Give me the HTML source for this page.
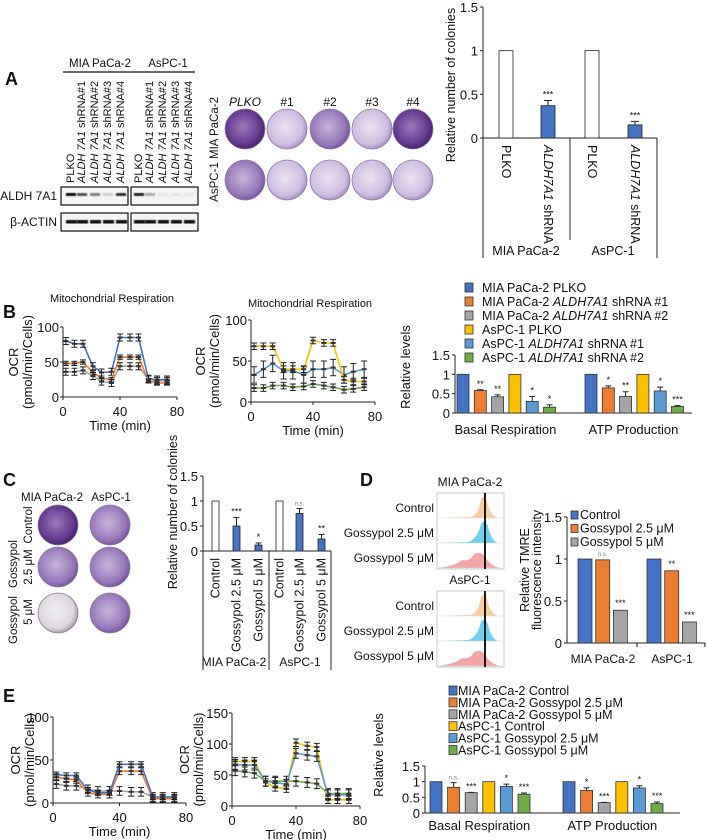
<!DOCTYPE html>
<html><head><meta charset="utf-8">
<style>
html,body{margin:0;padding:0;background:#fff;}
svg{display:block;font-family:"Liberation Sans",sans-serif;}
</style></head>
<body>
<svg id="fig" width="707" height="840" viewBox="0 0 707 840" xmlns="http://www.w3.org/2000/svg">
<defs>
<radialGradient id="pDark" cx="45%" cy="45%" r="55%"><stop offset="0" stop-color="#9a7ab8"/><stop offset="0.7" stop-color="#6b3f94"/><stop offset="1" stop-color="#4a2370"/></radialGradient>
<radialGradient id="pMid" cx="45%" cy="45%" r="55%"><stop offset="0" stop-color="#c7b5db"/><stop offset="0.8" stop-color="#9676ba"/><stop offset="1" stop-color="#7a57a2"/></radialGradient>
<radialGradient id="pLight" cx="45%" cy="45%" r="55%"><stop offset="0" stop-color="#ebe3f3"/><stop offset="0.8" stop-color="#cdbde0"/><stop offset="1" stop-color="#a893c6"/></radialGradient>
<radialGradient id="pWhite" cx="45%" cy="45%" r="55%"><stop offset="0" stop-color="#f2f0f2"/><stop offset="0.8" stop-color="#ddd6dd"/><stop offset="1" stop-color="#a9a0aa"/></radialGradient>
<filter id="blur1"><feGaussianBlur stdDeviation="0.6"/></filter>
</defs>
<g id="root"></g>
</svg>
<script>
// ---------- DATA ----------
const times=[2,8,14,21,27,34,40,47,53,60,66,73];
const aCats=["PLKO","ALDH7A1 shRNA","PLKO","ALDH7A1 shRNA"];
const aVals=[1,0.37,1,0.15];
const aErrs=[0,0.06,0,0.04];
const aStars=["","***","","***"];
const bMiaPlko=[80,76,76,44,35,36,85,85,85,26,25,25];
const bMiaSh1=[48,48,50,35,27,25,57,57,57,23,20,20];
const bMiaSh2=[36,36,38,30,22,20,44,44,44,25,23,23];
const bAsPlko=[68,68,68,40,40,40,75,72,72,27,25,25];
const bAsSh1=[33,40,47,38,38,33,40,40,42,33,37,40];
const bAsSh2=[17,17,20,20,18,19,22,20,18,15,16,18];
const bBasal=[1,0.58,0.42,1,0.3,0.15];
const bBasalErr=[0,0.02,0.05,0,0.13,0.06];
const bBasalStars=["","**","**","","*","*"];
const bATP=[1,0.65,0.43,1,0.57,0.17];
const bATPErr=[0,0.05,0.12,0,0.1,0.02];
const bATPStars=["","*","**","","*","***"];
const bLegend=["MIA PaCa-2 PLKO","MIA PaCa-2 |ALDH7A1| shRNA #1","MIA PaCa-2 |ALDH7A1| shRNA #2","AsPC-1 PLKO","AsPC-1 |ALDH7A1| shRNA #1","AsPC-1 |ALDH7A1| shRNA #2"];
const cVals=[1,0.5,0.12,1,0.75,0.24];
const cErrs=[0,0.17,0.04,0,0.1,0.09];
const cStars=["","***","*","","n.s.","**"];
const cCats=["Control","Gossypol 2.5 μM","Gossypol 5 μM","Control","Gossypol 2.5 μM","Gossypol 5 μM"];
const dMia=[1,0.99,0.39];
const dAs=[1,0.86,0.25];
const dStarsMia=["","n.s.","***"];
const dStarsAs=["","**","***"];
const dLegend=["Control","Gossypol 2.5 μM","Gossypol 5 μM"];
const eMiaCtrl=[33,32,32,15,12,12,45,45,45,7,7,7];
const eMia25=[30,28,27,12,10,10,37,37,37,5,5,5];
const eMia5=[22,20,20,16,14,14,14,13,13,7,7,7];
const eAsCtrl=[72,72,72,38,30,28,102,97,95,10,10,10];
const eAs25=[67,66,66,40,38,35,85,82,80,18,18,18];
const eAs5=[57,55,53,40,40,40,40,38,36,20,20,20];
const eBasal=[1,0.82,0.65,1,0.85,0.6];
const eBasalErr=[0,0.15,0.01,0,0.07,0.04];
const eBasalStars=["","n.s.","***","","*","***"];
const eATP=[1,0.72,0.33,1,0.8,0.3];
const eATPErr=[0,0.08,0.01,0,0.07,0.05];
const eATPStars=["","*","***","","*","***"];
const eLegend=["MIA PaCa-2 Control","MIA PaCa-2 Gossypol 2.5 μM","MIA PaCa-2 Gossypol 5 μM","AsPC-1 Control","AsPC-1 Gossypol 2.5 μM","AsPC-1 Gossypol 5 μM"];
const yTicks15=["0","0.5","1","1.5"];

const COL=["#4472C4","#ED7D31","#A5A5A5","#FFC000","#5B9BD5","#70AD47"];
const NS="http://www.w3.org/2000/svg";
const root=document.getElementById("root");

function mk(tag,attrs,parent){const e=document.createElementNS(NS,tag);for(const k in attrs)e.setAttribute(k,attrs[k]);(parent||root).appendChild(e);return e;}
function txt(x,y,s,size,anchor,extra){const e=mk("text",Object.assign({x:x,y:y,"font-size":size||11,"text-anchor":anchor||"start",fill:"#111"},extra||{}));
  const parts=s.split("|");parts.forEach((p,i)=>{if(!p)return;const t=document.createElementNS(NS,"tspan");t.textContent=p;if(i%2===1)t.setAttribute("font-style","italic");e.appendChild(t);});return e;}
function rtxt(x,y,s,size,anchor){return txt(x,y,s,size,anchor,{transform:"rotate(-90 "+x+" "+y+")"});}
function ln(x1,y1,x2,y2,w,c){return mk("line",{x1:x1,y1:y1,x2:x2,y2:y2,stroke:c||"#111","stroke-width":w||1});}

function lineChart(cfg){
  const sx=v=>cfg.ax+(cfg.ax1-cfg.ax)*v/80;
  const sy=v=>cfg.y0+(cfg.yTop-cfg.y0)*v/cfg.ymax;
  let e=ln(cfg.ax,cfg.yTop,cfg.ax,cfg.y0,1,"#222");
  
  
  e=ln(cfg.ax,cfg.y0,cfg.ax1,cfg.y0,1,"#222");
  
  
  cfg.yticks.forEach(v=>{
    ln(cfg.ax-3,sy(v),cfg.ax,sy(v),1,"#222");
    e=txt(cfg.ax-4,sy(v)+5,String(v),13,"end");
    
    
  });
  [0,40,80].forEach(v=>{
    ln(sx(v),cfg.y0,sx(v),cfg.y0+3,1,"#222");
    e=txt(sx(v),cfg.y0+19,String(v),13,"middle");
    
    
  });
  e=txt((cfg.ax+cfg.ax1)/2,cfg.y0+33,"Time (min)",13,"middle");
  
  
  const cy=(cfg.y0+cfg.yTop)/2;
  e=rtxt(cfg.lx,cy,"OCR",13,"middle");
  
  
  e=rtxt(cfg.lx+14,cy,"(pmol/min/Cells)",13,"middle");
  
  
  if(cfg.title){e=txt(cfg.titleX,cfg.titleY,cfg.title,11,"middle");
    
    }
  cfg.series.forEach((s,si)=>{
    const pts=s.vals.map((v,i)=>sx(times[i]).toFixed(1)+","+sy(v).toFixed(1)).join(" ");
    const p=mk("polyline",{points:pts,fill:"none",stroke:s.color,"stroke-width":1.6});
    
    
    s.vals.forEach((v,i)=>{
      const x=sx(times[i]),er=s.err;
      const g=mk("path",{d:`M${x},${sy(v+er)}V${sy(v-er)}M${x-3},${sy(v+er)}h6M${x-3},${sy(v-er)}h6`,stroke:"#222","stroke-width":1,fill:"none"});
      
      
      const m=mk("rect",{x:x-2.5,y:sy(v)-1,width:5,height:2,fill:"#333"});
      
      
    });
  });
}

function groupedBars(cfg){
  const sy=v=>cfg.y0+(cfg.yTop-cfg.y0)*v/1.5;
  let e=ln(cfg.ax,cfg.yTop,cfg.ax,cfg.y0,1,"#222");
  
  
  e=ln(cfg.ax,cfg.y0,cfg.ax1,cfg.y0,1,"#222");
  
  
  yTicks15.forEach((t,i)=>{
    const v=i*0.5;
    ln(cfg.ax-3,sy(v),cfg.ax,sy(v),1,"#222");
    e=txt(cfg.ax-5,sy(v)+5,t,13,"end");
    
    
  });
  e=rtxt(cfg.lx,cfg.ly,"Relative levels",13,"middle");
  
  
  cfg.groups.forEach((g,gi)=>{
    g.vals.forEach((v,i)=>{
      const x=g.start+i*cfg.pitch;
      const r=mk("rect",{x:x,y:sy(v),width:cfg.bw,height:sy(0)-sy(v),fill:COL[i],stroke:"#333","stroke-width":0.8});
      
      
      const er=g.errs[i];
      if(er>0){const p=mk("path",{d:`M${x+cfg.bw/2},${sy(v)}V${sy(v+er)}M${x+cfg.bw/2-3},${sy(v+er)}h6`,stroke:"#222","stroke-width":1});
        
        }
      if(g.stars[i]){const s=txt(x+cfg.bw/2,sy(v+er)-3,g.stars[i],g.stars[i]==="n.s."?6:9,"middle",{fill:g.stars[i]==="n.s."?"#777":"#111"});
        
        }
    });
    e=txt(g.start+cfg.pitch*2.8,cfg.labelY,g.label,13,"middle");
    
    
  });
  cfg.legend.forEach((s,i)=>{
    const y=cfg.legY+i*cfg.legPitch;
    const r=mk("rect",{x:cfg.legX,y:y-9,width:8,height:9,fill:COL[i],stroke:"#333","stroke-width":0.8});
    
    
    const t=txt(cfg.legX+cfg.legTx,y,s,cfg.legSize||12.5);
    
    
  });
}

function simpleBars(cfg){
  const sy=v=>cfg.y0+(cfg.yTop-cfg.y0)*v/1.5;
  let e=ln(cfg.ax,cfg.yTop,cfg.ax,cfg.yBot,1,"#222");
  
  
  e=ln(cfg.ax,cfg.y0,cfg.ax1,cfg.y0,1,"#222");
  
  
  yTicks15.forEach((t,i)=>{const v=i*0.5;ln(cfg.ax-3,sy(v),cfg.ax,sy(v),1,"#222");
    e=txt(cfg.ax-5,sy(v)+5,t,13,"end");
    
    });
  cfg.vals.forEach((v,i)=>{
    const x=cfg.xs[i];
    const r=mk("rect",{x:x,y:sy(v),width:cfg.bw,height:sy(0)-sy(v),fill:cfg.fills[i],stroke:"#222","stroke-width":0.8});
    
    
    const er=cfg.errs[i];
    if(er>0){const p=mk("path",{d:`M${x+cfg.bw/2},${sy(v)}V${sy(v+er)}M${x+cfg.bw/2-3},${sy(v+er)}h6`,stroke:"#222","stroke-width":1});
      
      }
    if(cfg.stars[i]){const s=txt(x+cfg.bw/2,sy(v+er)-3,cfg.stars[i],cfg.stars[i]==="n.s."?6:9,"middle",{fill:cfg.stars[i]==="n.s."?"#777":"#111"});
      
      }
    const c=rtxt(x+cfg.bw/2+4,cfg.y0+7,cfg.cats[i],12.5,"end");
    
    
  });
}

// ---------- PANEL A ----------
let e=txt(5,85,"A",18,"start",{"font-weight":"bold"});


e=txt(100,67,"MIA PaCa-2",11.5,"middle");


e=txt(168,67,"AsPC-1",11.5,"middle");


ln(63,72,195,72,1.2);
const laneX=[70,81,94,107,120,138,149,162,175,188];
const laneLbl=["PLKO","|ALDH 7A1| shRNA#1","|ALDH 7A1| shRNA#2","|ALDH 7A1| shRNA#3","|ALDH 7A1| shRNA#4"];
laneX.forEach((x,i)=>{
  e=rtxt(x+4,183,laneLbl[i%5],11,"start");
  
  
});
[[61,187,67,18],[131,187,67,18],[61,213,67,18],[131,213,67,18]].forEach((b,i)=>{
  e=mk("rect",{x:b[0],y:b[1],width:b[2],height:b[3],fill:"#f4f4f4",stroke:"#111","stroke-width":1.2});
  
  
});
const aldhBand=[1,0.7,0.5,0.15,0.85,0.9,0.3,0.05,0.05,0.05];
laneX.forEach((x,i)=>{
  e=mk("rect",{x:x-4,y:193,width:10,height:3,fill:"#111",opacity:aldhBand[i],filter:"url(#blur1)"});
  
  
  e=mk("rect",{x:x-4,y:220,width:11,height:3.5,fill:"#111",filter:"url(#blur1)"});
  
  
});
e=txt(57,200,"ALDH 7A1",12,"end");


e=txt(57,226,"β-ACTIN",12,"end");


const plateX=[245,287,330,372,413];
const plateLbl=["PLKO","#1","#2","#3","#4"];
const row1=["pDark","pLight","pMid","pLight","pDark"];
const row2=["pMid","pLight","pLight","pLight","pLight"];
plateX.forEach((x,i)=>{
  e=txt(x,106,plateLbl[i],12,"middle",i===0?{"font-style":"italic"}:{});
  
  
  e=mk("circle",{cx:x,cy:129,r:20,fill:`url(#${row1[i]})`,stroke:"#8f7aa8","stroke-width":0.8});
  
  
  e=mk("circle",{cx:x,cy:180,r:20,fill:`url(#${row2[i]})`,stroke:"#8f7aa8","stroke-width":0.8});
  
  
});
e=rtxt(218,128,"MIA PaCa-2",11.5,"middle");


e=rtxt(218,182,"AsPC-1",11.5,"middle");


(function(){
  const ax=483,y0=138,yTop=7;
  const sy=v=>y0+(yTop-y0)*v/1.5;
  let e=ln(ax,yTop,ax,258,1,"#222");
  
  
  e=ln(ax,y0,657,y0,1,"#222");
  
  
  ln(570,y0,570,240,1,"#222");ln(657,y0,657,258,1,"#222");
  yTicks15.forEach((t,i)=>{const v=i*0.5;ln(ax-3,sy(v),ax,sy(v),1,"#222");
    e=txt(ax-5,sy(v)+5,t,13,"end");
    
    });
  e=rtxt(455,85,"Relative number of colonies",12.5,"middle");
  
  
  const xs=[499,541,585,628];
  aVals.forEach((v,i)=>{
    const r=mk("rect",{x:xs[i],y:sy(v),width:14,height:y0-sy(v),fill:i%2?COL[0]:"#fff",stroke:"#222","stroke-width":0.8});
    
    
    if(aErrs[i]){const p=mk("path",{d:`M${xs[i]+7},${sy(v)}V${sy(v+aErrs[i])}M${xs[i]+3},${sy(v+aErrs[i])}h8`,stroke:"#222"});
      
      }
    if(aStars[i]){const s=txt(xs[i]+7,sy(v+aErrs[i])-3,aStars[i],9,"middle");
      
      }
    const c=txt(xs[i]+3,145,i%2?"|ALDH7A1| shRNA":"PLKO",12.5,"start",{transform:`rotate(90 ${xs[i]+3} 145)`});
    
    
  });
  e=txt(526,255,"MIA PaCa-2",12.5,"middle");
  
  
  e=txt(613,255,"AsPC-1",12.5,"middle");
  
  
})();

// ---------- PANEL B ----------
e=txt(3,318,"B",18,"start",{"font-weight":"bold"});


lineChart({name:"b-mia",ax:63,ax1:177,y0:397,yTop:327,ymax:100,yticks:[0,50,100],lx:18,title:"Mitochondrial Respiration",titleX:112,titleY:302,
  series:[{vals:bMiaPlko,color:COL[0],err:5},{vals:bMiaSh1,color:COL[1],err:3},{vals:bMiaSh2,color:COL[2],err:5}]});
lineChart({name:"b-aspc",ax:251,ax1:375,y0:402,yTop:320,ymax:100,yticks:[0,50,100],lx:205,title:"Mitochondrial Respiration",titleX:310,titleY:307,
  series:[{vals:bAsSh1,color:COL[4],err:10},{vals:bAsSh2,color:COL[5],err:4},{vals:bAsPlko,color:COL[3],err:4}]});
groupedBars({ax:455,ax1:692,y0:413,yTop:355,lx:410,ly:367,pitch:17.3,bw:12,labelY:434,
  groups:[{start:457,vals:bBasal,errs:bBasalErr,stars:bBasalStars,label:"Basal Respiration"},{start:585,vals:bATP,errs:bATPErr,stars:bATPStars,label:"ATP Production"}],
  legend:bLegend,legX:465,legTx:17,legY:292,legPitch:14});

// ---------- PANEL C ----------
e=txt(3,486,"C",18,"start",{"font-weight":"bold"});


e=txt(52,501,"MIA PaCa-2",11.5,"middle");


e=txt(111,501,"AsPC-1",11.5,"middle");


const cPlates=[["pDark","pMid"],["pMid","pMid"],["pWhite","pMid"]];
const cRowY=[525,567,613];
cRowY.forEach((y,r)=>{
  [58,110].forEach((x,c)=>{
    e=mk("circle",{cx:x,cy:y,r:20,fill:`url(#${cPlates[r][c]})`,stroke:"#8a7a96","stroke-width":0.8});
    
    
  });
});
e=rtxt(32,525,"Control",11.5,"middle");


e=rtxt(17,564,"Gossypol",11.5,"middle");


e=rtxt(32,567,"2.5 μM",11.5,"middle");


e=rtxt(17,620,"Gossypol",11.5,"middle");


e=rtxt(32,612,"5 μM",11.5,"middle");


simpleBars({ax:203,ax1:331,y0:551,yTop:476,yBot:670,vals:cVals,errs:cErrs,stars:cStars,cats:cCats,bw:7,
  xs:[212,233,255,276,296,318],fills:["#fff",COL[0],COL[0],"#fff",COL[0],COL[0]]});
ln(269,551,269,670,1,"#222");ln(331,551,331,670,1,"#222");
e=rtxt(177,512,"Relative number of colonies",12.5,"middle");


e=txt(234,666,"MIA PaCa-2",12,"middle");


e=txt(300,666,"AsPC-1",12,"middle");



// ---------- PANEL D ----------
e=txt(360,486,"D",18,"start",{"font-weight":"bold"});


function histBox(y0,title,names){
  let e=txt(470,y0-7,title,12,"middle");
  
  
  e=mk("rect",{x:437,y:y0,width:67,height:76,fill:"#fff",stroke:"#bbb","stroke-width":0.8});
  
  
  const rh=25;
  const cols=["#f6c99a","#5ccbef","#f29c9c"];
  const paths=[
    `M437,${y0+rh}L470,${y0+rh-1}Q478,${y0+rh-2} 481,${y0+6}Q484,${y0+1} 487,${y0+8}Q490,${y0+rh-2} 498,${y0+rh}Z`,
    `M437,${y0+2*rh}L468,${y0+2*rh-1}Q477,${y0+2*rh-3} 481,${y0+rh+6}Q484,${y0+rh+1} 488,${y0+rh+8}Q491,${y0+2*rh-2} 498,${y0+2*rh}Z`,
    `M437,${y0+3*rh}Q455,${y0+3*rh-2} 462,${y0+3*rh-8}Q470,${y0+3*rh-6} 474,${y0+3*rh-14}Q482,${y0+3*rh-18} 487,${y0+3*rh-8}Q492,${y0+3*rh-2} 500,${y0+3*rh}Z`];
  names.forEach((n,i)=>{
    let p=mk("path",{d:paths[i],fill:cols[i],opacity:0.9});
    
    
    ln(437,y0+(i+1)*rh,504,y0+(i+1)*rh,0.5,"#ddd");
    let t=txt(434,y0+(i+1)*rh-6,n,12,"end");
    
    
  });
  e=ln(485,y0,485,y0+76,1.8,"#000");
  
  
}
histBox(493,"MIA PaCa-2",["Control","Gossypol 2.5 μM","Gossypol 5 μM"]);
histBox(591,"AsPC-1",["Control","Gossypol 2.5 μM","Gossypol 5 μM"]);
(function(){
  const ax=567,y0=643,yTop=517;
  const sy=v=>y0+(yTop-y0)*v/1.5;
  let e=ln(ax,yTop,ax,y0,1,"#222");
  
  
  e=ln(ax,y0,705,y0,1,"#222");
  
  
  ln(637,y0,637,y0+4);ln(705,y0,705,y0+4);
  yTicks15.forEach((t,i)=>{const v=i*0.5;ln(ax-3,sy(v),ax,sy(v),1,"#222");
    e=txt(ax-5,sy(v)+5,t,13,"end");
    
    });
  e=rtxt(529,570,"Relative TMRE",12.5,"middle");
  
  
  e=rtxt(541,570,"fluorescence intensity",12.5,"middle");
  
  
  [[578,dMia,dStarsMia,"MIA PaCa-2"],[647,dAs,dStarsAs,"AsPC-1"]].forEach(g=>{
    g[1].forEach((v,i)=>{
      const x=g[0]+i*17.7;
      const r=mk("rect",{x:x,y:sy(v),width:14,height:y0-sy(v),fill:COL[i],stroke:"#333","stroke-width":0.8});
      
      
      if(g[2][i]){const s=txt(x+7,sy(v)-4,g[2][i],g[2][i]==="n.s."?6:9,"middle",{fill:g[2][i]==="n.s."?"#777":"#111"});
        
        }
    });
    const t=txt(g[0]+25,663,g[3],12,"middle");
    
    
  });
  dLegend.forEach((s,i)=>{
    const y=519+i*13.5;
    const r=mk("rect",{x:571,y:y-8,width:7,height:8,fill:COL[i],stroke:"#333","stroke-width":0.8});
    
    
    const t=txt(580,y,s,12.5);
    
    
  });
})();

// ---------- PANEL E ----------
e=txt(3,702,"E",18,"start",{"font-weight":"bold"});


lineChart({name:"e-mia",ax:53,ax1:186,y0:803,yTop:717,ymax:100,yticks:[0,50,100],lx:20,
  series:[{vals:eMia5,color:COL[2],err:5},{vals:eMia25,color:COL[1],err:4},{vals:eMiaCtrl,color:COL[0],err:3}]});
lineChart({name:"e-aspc",ax:232,ax1:360,y0:806,yTop:713,ymax:150,yticks:[0,50,100,150],lx:189,
  series:[{vals:eAs5,color:COL[5],err:8},{vals:eAsCtrl,color:COL[3],err:6},{vals:eAs25,color:COL[4],err:8}]});
groupedBars({ax:425,ax1:680,y0:813,yTop:766,lx:383,ly:755,pitch:17.6,bw:12,labelY:830,
  groups:[{start:430,vals:eBasal,errs:eBasalErr,stars:eBasalStars,label:"Basal Respiration"},{start:563,vals:eATP,errs:eATPErr,stars:eATPStars,label:"ATP Production"}],
  legend:eLegend,legX:449,legTx:9,legY:695,legPitch:11.9});
</script>
</body></html>
